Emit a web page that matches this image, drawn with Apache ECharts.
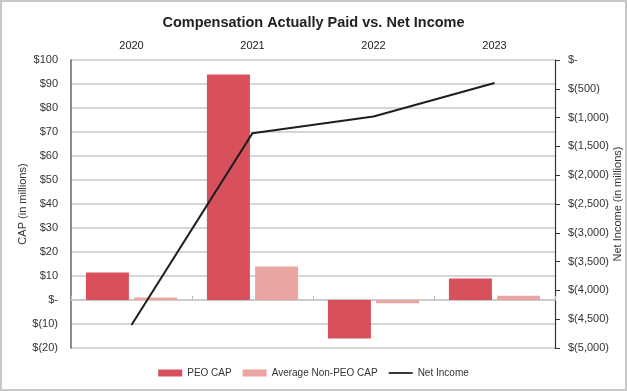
<!DOCTYPE html>
<html>
<head>
<meta charset="utf-8">
<script src="https://cdn.jsdelivr.net/npm/echarts@6/dist/echarts.min.js"></script>
<style>
html,body{margin:0;padding:0;background:#fff;}
#chart{width:627px;height:391px;}
</style>
</head>
<body>
<div id="chart"></div>
<script>
var years = ['2020', '2021', '2022', '2023'];
var peoCap = [11.5, 94, -16, 9];
var nonPeoCap = [1, 14, -1.4, 1.8];
var netIncome = [-4600, -1270, -980, -400];
var seriesNames = ['PEO CAP', 'Average Non-PEO CAP', 'Net Income'];

function money(v) {
  if (v === 0) return '$-';
  var s = Math.abs(v).toString().replace(/\B(?=(\d{3})+(?!\d))/g, ',');
  return v < 0 ? '$(' + s + ')' : '$' + s;
}

var font = 'Liberation Sans, Arial, sans-serif';
var chart = echarts.init(document.getElementById('chart'));
chart.setOption({
  animation: false,
  backgroundColor: '#fff',
  textStyle: { fontFamily: font },
  title: {
    text: 'Compensation Actually Paid vs. Net Income',
    left: 'center', top: 10,
    textStyle: { fontFamily: font, fontSize: 14.5, fontWeight: 'bold', color: '#222' }
  },
  graphic: [{
    type: 'rect', silent: true,
    shape: { x: 1, y: 1, width: 625, height: 389 },
    style: { fill: 'none', stroke: '#c8c8c8', lineWidth: 2 }
  }],
  legend: {
    data: [
      { name: seriesNames[0], icon: 'rect' },
      { name: seriesNames[1], icon: 'rect' },
      { name: seriesNames[2], icon: 'path://M0,0H30V2.2H0Z' }
    ],
    bottom: 8, left: 'center',
    itemWidth: 24, itemHeight: 7, itemGap: 11,
    textStyle: { fontFamily: font, fontSize: 10, color: '#333' }
  },
  grid: { left: 71, right: 72, top: 60, bottom: 43, containLabel: false, outerBoundsMode: 'none' },
  xAxis: {
    type: 'category', position: 'top', data: years,
    axisLine: { show: true, lineStyle: { color: '#c8c8c8', width: 1.5 } },
    axisTick: { show: true, length: 4, lineStyle: { color: '#bbb' } },
    axisLabel: { color: '#222', fontSize: 11, margin: 9, fontFamily: font }
  },
  yAxis: [{
    type: 'value', min: -20, max: 100, interval: 10,
    name: 'CAP (in millions)', nameLocation: 'middle', nameGap: 43, nameRotate: 90,
    nameMoveOverlap: false,
    nameTextStyle: { color: '#333', fontSize: 11, fontFamily: font },
    axisLine: { show: true, lineStyle: { color: '#666', width: 1.5 } },
    axisTick: { show: false },
    axisLabel: { color: '#333', fontSize: 11, margin: 13, formatter: money, fontFamily: font },
    splitLine: { show: true, lineStyle: { color: '#c8c8c8', width: 1.5 } }
  }, {
    type: 'value', min: -5000, max: 0, interval: 500,
    name: 'Net Income (in millions)', nameLocation: 'middle', nameGap: 57, nameRotate: 90,
    nameMoveOverlap: false,
    nameTextStyle: { color: '#333', fontSize: 11, fontFamily: font },
    axisLine: { show: true, lineStyle: { color: '#333', width: 1.2 } },
    axisTick: { show: true, length: 5, lineStyle: { color: '#333' } },
    axisLabel: { color: '#333', fontSize: 11, margin: 13, formatter: money, fontFamily: font },
    splitLine: { show: false }
  }],
  series: [{
    name: seriesNames[0], type: 'bar', yAxisIndex: 0, data: peoCap,
    barWidth: 43, barGap: '12%',
    itemStyle: { color: '#d8505c' }
  }, {
    name: seriesNames[1], type: 'bar', yAxisIndex: 0, data: nonPeoCap,
    barWidth: 43, barGap: '12%',
    itemStyle: { color: '#e9a6a2' }
  }, {
    name: seriesNames[2], type: 'line', yAxisIndex: 1, data: netIncome,
    symbol: 'none', z: 5,
    lineStyle: { color: '#1e1e1e', width: 2 },
    itemStyle: { color: '#1e1e1e' }
  }]
});
</script>
</body>
</html>
